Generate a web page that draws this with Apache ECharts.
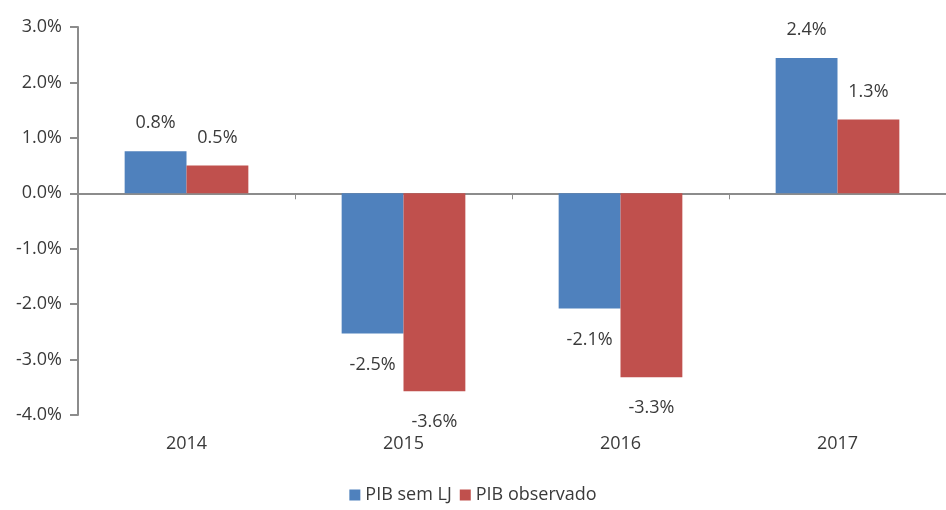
<!DOCTYPE html>
<html>
<head>
<meta charset="utf-8">
<script src="https://cdn.jsdelivr.net/npm/echarts@6/dist/echarts.min.js"></script>
<style>
  html, body { margin: 0; padding: 0; background: #fff; }
  #chart { width: 946px; height: 510px; }
</style>
</head>
<body>
<div id="chart"></div>
<script>
const years = ['2014', '2015', '2016', '2017'];
const pibSemLJ = [0.76, -2.53, -2.08, 2.44];
const pibObservado = [0.5, -3.57, -3.32, 1.33];
const yTicks = [-4, -3, -2, -1, 0, 1, 2, 3];

const textColor = '#3a3a3a';
const font = 'Open Sans';
const fontSize = 18;

// labels go above positive bars and below negative ones
function withLabels(values) {
  return values.map(v => ({
    value: v,
    label: {
      position: v >= 0 ? 'top' : 'bottom',
      distance: v >= 0 ? 19 : 22
    }
  }));
}

const chart = echarts.init(document.getElementById('chart'));
chart.setOption({
  animation: false,
  grid: { left: 78, top: 27, width: 877, bottom: 95 },
  legend: {
    bottom: 1,
    left: 'center',
    icon: 'rect',
    itemWidth: 11,
    itemHeight: 11,
    itemGap: 8,
    textStyle: { color: textColor, fontFamily: font, fontSize: fontSize }
  },
  xAxis: [
    {
      type: 'category',
      data: years,
      axisLine: { onZero: true, lineStyle: { color: '#8c8c8c', width: 2 } },
      axisTick: { show: true, length: 6, lineStyle: { color: '#8c8c8c', width: 1 } },
      axisLabel: { show: false }
    },
    {
      type: 'category',
      data: years,
      position: 'bottom',
      axisLine: { show: false, onZero: false },
      axisTick: { show: false },
      axisLabel: { color: textColor, fontFamily: font, fontSize: fontSize, margin: 20 }
    }
  ],
  yAxis: {
    type: 'value',
    min: yTicks[0],
    max: yTicks[yTicks.length - 1],
    interval: 1,
    splitLine: { show: false },
    axisLine: { show: true, lineStyle: { color: '#8c8c8c', width: 2 } },
    axisTick: { show: true, length: 8, lineStyle: { color: '#8c8c8c', width: 2 } },
    axisLabel: {
      color: textColor,
      fontFamily: font,
      fontSize: fontSize,
      margin: 16,
      formatter: v => v.toFixed(1) + '%'
    }
  },
  series: [
    {
      name: 'PIB sem LJ',
      type: 'bar',
      data: withLabels(pibSemLJ),
      itemStyle: { color: '#4f81bd' },
      barGap: '0%',
      barCategoryGap: '43%',
      label: {
        show: true,
        color: textColor,
        fontFamily: font,
        fontSize: fontSize,
        formatter: p => p.value.toFixed(1) + '%'
      }
    },
    {
      name: 'PIB observado',
      type: 'bar',
      data: withLabels(pibObservado),
      itemStyle: { color: '#c0504d' },
      barGap: '0%',
      barCategoryGap: '43%',
      label: {
        show: true,
        color: textColor,
        fontFamily: font,
        fontSize: fontSize,
        formatter: p => p.value.toFixed(1) + '%'
      }
    }
  ]
});
</script>
</body>
</html>
